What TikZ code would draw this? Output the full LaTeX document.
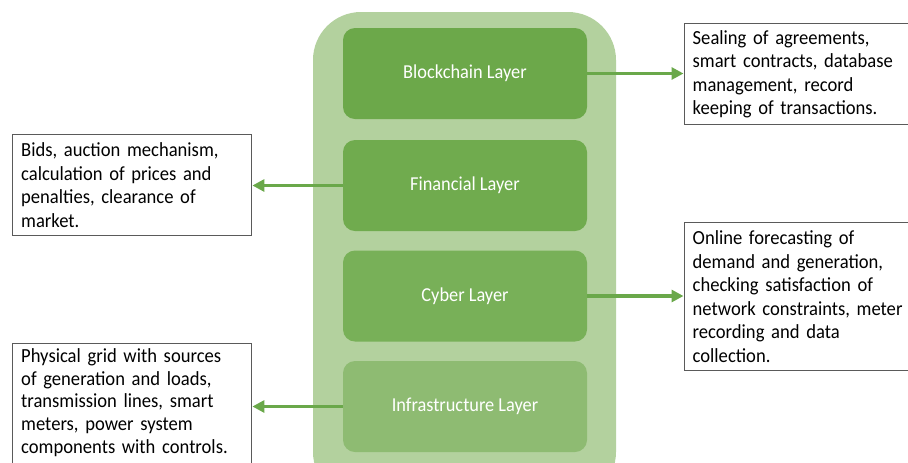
\documentclass[tikz,border=0pt]{standalone}
\usepackage{fontspec}
\setmainfont{Carlito}
\newfontfamily\narrowfont[FakeStretch=0.93]{Carlito}
\usetikzlibrary{arrows.meta}
\definecolor{outerg}{HTML}{B3D19E}
\definecolor{g1}{HTML}{6CA84A}
\definecolor{g2}{HTML}{70AB4E}
\definecolor{g3}{HTML}{78B058}
\definecolor{g4}{HTML}{8EBB72}
\definecolor{arrg}{HTML}{6AA84A}
\definecolor{boxline}{HTML}{5A5A5A}
\tikzset{
  layer/.style={draw=none, rounded corners=9, minimum width=244*0.75pt, minimum height=91*0.75pt, text=white, font=\narrowfont\fontsize{14.8pt}{17pt}\selectfont},
  descbox/.style={draw=boxline, line width=0.8pt, align=left, anchor=north west, inner xsep=6.5pt, inner ysep=5pt, font=\narrowfont\fontsize{15pt}{17.6pt}\selectfont, text=black},
  conn/.style={draw=arrg, line width=2.3pt, -{Triangle[length=9pt,width=9pt]}}
}
\begin{document}
\begin{tikzpicture}[x=0.75pt,y=-0.75pt]
\useasboundingbox (0,0) rectangle (908,462);
\clip (0,0) rectangle (908,462);
\fill[outerg, rounded corners=36] (313,12) rectangle (616,500);
\node[layer, fill=g1] (bc) at (465,73.5) {Blockchain Layer};
\node[layer, fill=g2] (fin) at (465,185.5) {Financial Layer};
\node[layer, fill=g3] (cyb) at (465,296) {Cyber Layer};
\node[layer, fill=g4] (inf) at (465,406.5) {Infrastructure Layer};
\node[descbox, text width=212*0.75pt, minimum height=101*0.75pt] (d1) at (683.5,23) {Sealing of agreements,\\smart contracts, database\\management, record\\keeping of transactions.};
\node[descbox, text width=222*0.75pt, minimum height=101*0.75pt] (d2) at (12,134) {Bids, auction mechanism,\\calculation of prices and\\penalties, clearance of\\market.};
\node[descbox, text width=212*0.75pt, minimum height=148*0.75pt] (d3) at (683.5,222) {Online forecasting of\\demand and generation,\\checking satisfaction of\\network constraints, meter\\recording and data\\collection.};
\node[descbox, inner ysep=3.5pt, text width=222*0.75pt, font=\narrowfont\fontsize{15pt}{17.2pt}\selectfont] (d4) at (12,343) {Physical grid with sources\\of generation and loads,\\transmission lines, smart\\meters, power system\\components with controls.\\\mbox{}};
\draw[conn] (bc.east) -- (bc.east -| d1.west);
\draw[conn] (fin.west) -- (fin.west -| d2.east);
\draw[conn] (cyb.east) -- (cyb.east -| d3.west);
\draw[conn] (inf.west) -- ([yshift=0pt]inf.west -| d4.east);
\end{tikzpicture}
\end{document}
